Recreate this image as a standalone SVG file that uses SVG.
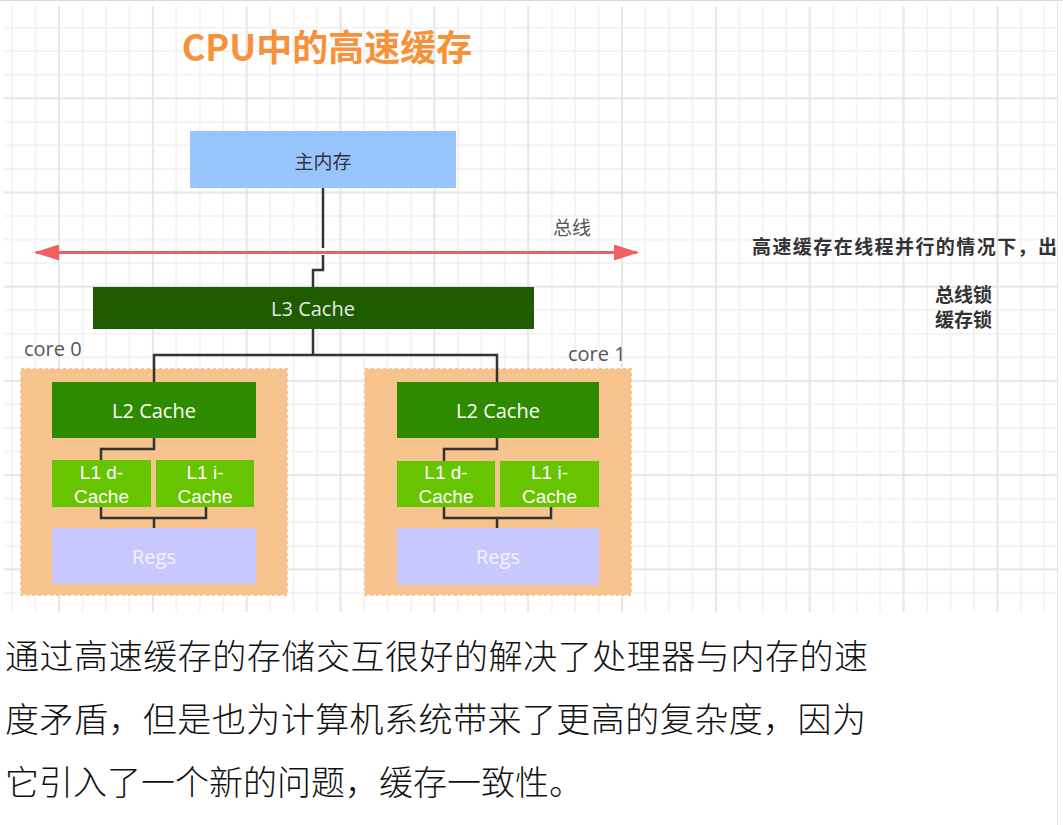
<svg xmlns="http://www.w3.org/2000/svg" width="1063" height="825" viewBox="0 0 1063 825">
<style>
.lbl{font-family:"Open Sans","Liberation Sans",sans-serif;font-size:20px;fill:#ffffff;text-anchor:middle;dominant-baseline:central}
.l1t{font-family:"Liberation Sans","Open Sans",sans-serif;font-size:19px;fill:#ffffff;text-anchor:middle;dominant-baseline:central}
.cjk{font-family:"Noto Sans CJK SC",sans-serif}
.core{font-family:"Open Sans","Liberation Sans",sans-serif;font-size:20px;fill:#555555;dominant-baseline:central}
.wire{fill:none;stroke:#333333;stroke-width:2.5}
.corebox{fill:#f7c48f;stroke:#f7c48f;stroke-width:2;stroke-dasharray:3 3}
.l2{fill:#2e8b00}
.l1{fill:#66c400}
.regs{fill:#c8c8ff}
.side{font-family:"Noto Sans CJK SC",sans-serif;font-size:19px;font-weight:bold;fill:#333333;dominant-baseline:central}
.body{font-family:"Noto Sans CJK SC",sans-serif;font-size:34px;font-weight:300;fill:#111111}
</style>
<defs>
<pattern id="gMinor" x="11.1" y="3.1" width="23.46" height="23.55" patternUnits="userSpaceOnUse"><path d="M1 0V23.55M0 1H23.46" stroke="#f0f0f0" stroke-width="1.5" fill="none"/></pattern>
<pattern id="gMajor" x="58" y="97.3" width="93.84" height="94.2" patternUnits="userSpaceOnUse"><path d="M1 0V94.2M0 1H93.84" stroke="#e3e3e3" stroke-width="1.5" fill="none"/></pattern>
<marker id="ah" viewBox="0 0 25 16" refX="23" refY="8" markerWidth="25" markerHeight="16" markerUnits="userSpaceOnUse" orient="auto-start-reverse"><path d="M0 0L25 8L0 16Z" fill="#f06060"/></marker>
<clipPath id="pageClip"><rect x="0" y="0" width="1057" height="825"/></clipPath>
</defs>
<rect width="1063" height="825" fill="#ffffff"/>
<g id="grid">
<rect x="4" y="6" width="1053" height="606" fill="url(#gMinor)"/>
<rect x="4" y="6" width="1053" height="606" fill="url(#gMajor)"/>
<line x1="0" y1="0.5" x2="1063" y2="0.5" stroke="#d9d9d9"/>
<line x1="1057.5" y1="0" x2="1057.5" y2="825" stroke="#e6e6e6"/>
</g>
<text id="title" x="327" y="61" class="cjk" font-size="36" font-weight="bold" fill="#f7923a" text-anchor="middle">CPU中的高速缓存</text>
<g id="core0">
<rect class="corebox" x="21" y="369" width="266" height="226"/>
<text class="core" x="24" y="348">core 0</text>
</g>
<g id="core1">
<rect class="corebox" x="365" y="369" width="266" height="226"/>
<text class="core" x="568" y="353">core 1</text>
</g>
<g id="connectors">
<path class="wire" d="M323 188V248"/>
<path class="wire" d="M323 255V270H313V287"/>
<path class="wire" d="M313 329V355M154 382V355H497V382"/>
<path class="wire" d="M154 438V449H101V460M101 507V518H206V507M154 518V528"/>
<path class="wire" d="M497 438V449H444V461M444 507V518H551V507M497 518V528"/>
<line x1="36" y1="252.5" x2="637" y2="252.5" stroke="#f06060" stroke-width="3" marker-start="url(#ah)" marker-end="url(#ah)"/>
</g>
<g id="mem">
<rect x="190" y="131" width="266" height="57" fill="#99c5ff"/>
<text x="323" y="160" class="cjk" font-size="19" fill="#333333" text-anchor="middle" dominant-baseline="central">主内存</text>
</g>
<text id="bus" x="572" y="226" class="cjk" font-size="19" fill="#555555" text-anchor="middle" dominant-baseline="central">总线</text>
<g id="l3">
<rect x="93" y="287" width="441" height="42" fill="#1f5c00"/>
<text class="lbl" x="313" y="308" style="fill:#e8e8e8">L3 Cache</text>
</g>
<g id="l2-0"><rect class="l2" x="52" y="382" width="204" height="56"/><text class="lbl" x="154" y="410">L2 Cache</text></g>
<g id="l1d-0"><rect class="l1" x="52" y="460" width="99" height="47"/><text class="l1t" x="101.5" y="472">L1 d-</text><text class="l1t" x="101.5" y="496">Cache</text></g>
<g id="l1i-0"><rect class="l1" x="156" y="460" width="98" height="47"/><text class="l1t" x="205" y="472">L1 i-</text><text class="l1t" x="205" y="496">Cache</text></g>
<g id="regs-0"><rect class="regs" x="52" y="528" width="204" height="56"/><text class="lbl" x="154" y="556" style="fill:#f4f4ff">Regs</text></g>
<g id="l2-1"><rect class="l2" x="397" y="382" width="202" height="56"/><text class="lbl" x="498" y="410">L2 Cache</text></g>
<g id="l1d-1"><rect class="l1" x="397" y="461" width="98" height="46"/><text class="l1t" x="446" y="472">L1 d-</text><text class="l1t" x="446" y="496">Cache</text></g>
<g id="l1i-1"><rect class="l1" x="500" y="461" width="99" height="46"/><text class="l1t" x="549.5" y="472">L1 i-</text><text class="l1t" x="549.5" y="496">Cache</text></g>
<g id="regs-1"><rect class="regs" x="397" y="528" width="202" height="57"/><text class="lbl" x="498" y="556" style="fill:#f4f4ff">Regs</text></g>
<g id="notes" clip-path="url(#pageClip)">
<text class="side" x="752" y="245" textLength="305" lengthAdjust="spacing">高速缓存在线程并行的情况下，出</text>
<text class="side" x="935" y="293">总线锁</text>
<text class="side" x="935" y="318">缓存锁</text>
</g>
<g id="body">
<text class="body" x="5" y="669" textLength="863" lengthAdjust="spacing">通过高速缓存的存储交互很好的解决了处理器与内存的速</text>
<text class="body" x="5" y="732" textLength="861" lengthAdjust="spacing">度矛盾，但是也为计算机系统带来了更高的复杂度，因为</text>
<text class="body" x="5" y="795">它引入了一个新的问题，缓存一致性。</text>
</g>
</svg>
